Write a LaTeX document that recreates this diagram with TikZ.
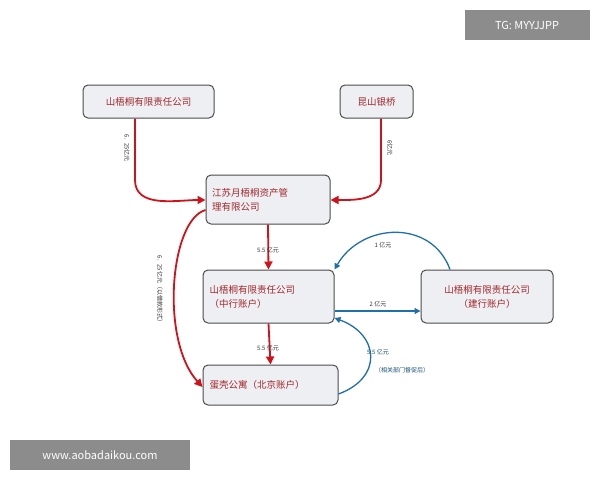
\documentclass[tikz,border=0pt]{standalone}
\usepackage{fontspec}
\setmainfont{Noto Sans CJK SC}
\usetikzlibrary{arrows.meta}
\definecolor{rd}{HTML}{D0121B}
\definecolor{bl}{HTML}{1F6FA8}
\definecolor{tx}{HTML}{A0282C}
\definecolor{bx}{HTML}{EEEFF3}
\tikzset{
 box/.style={draw=black!70,line width=1pt,fill=bx,rounded corners=5pt,text=tx,font=\fontsize{9.5}{14}\selectfont,align=left,inner sep=3pt},
 rarr/.style={draw=rd,line width=1.8pt,-{Triangle[length=8pt,width=8pt]}},
 barr/.style={draw=bl,line width=1.3pt,-{Triangle[length=6pt,width=6pt]}},
 lbl/.style={font=\fontsize{6}{7}\selectfont,text=black!80},
 wm/.style={fill=black!45,text=white,font=\fontsize{11}{13}\selectfont,inner sep=0pt}
}
\begin{document}
\begin{tikzpicture}[x=1pt,y=-1pt]
\useasboundingbox[fill=white] (0,0) rectangle (600,480);
\node[wm,minimum width=125,minimum height=30] (tg) at (527,25) {TG: MYYJJPP};
\node[wm,minimum width=180,minimum height=30] (ww) at (100,455) {www.aobadaikou.com};
\node[box,minimum width=131,minimum height=33,align=center] (A) at (148.5,101.5) {山梧桐有限责任公司};
\node[box,minimum width=73,minimum height=33,align=center] (B) at (376.5,101.5) {昆山银桥};
\node[box,minimum width=124,minimum height=49,text width=112] (C) at (268,199.5) {江苏月梧桐资产管\\理有限公司};
\node[box,minimum width=131,minimum height=53,text width=118] (D) at (268.5,296.5) {山梧桐有限责任公司\\（中行账户）};
\node[box,minimum width=132,minimum height=53,align=center] (E) at (487,296.5) {山梧桐有限责任公司\\（建行账户）};
\node[box,minimum width=135,minimum height=40,text width=122] (F) at (270.5,385) {蛋壳公寓（北京账户）};
\draw[rarr] (A.south -| 135,0) -- (135,180) to[out=-90,in=180] (C.west |- 0,200);
\node[lbl,rotate=-90] (l1) at (127,148) {6．25亿元};
\draw[rarr] (B.south -| 381,0) -- (381,180) to[out=-90,in=0] (C.east |- 0,200);
\node[lbl,rotate=-90] (l2) at (390,148) {6亿元};
\draw[rarr] (C.west |- 0,210) .. controls (170,220) and (160,340) .. (F.west |- 0,387);
\node[lbl,rotate=-90] (l3) at (160,290) {6．25亿元（以借款形式）};
\draw[rarr] (C.south) -- (D.north);
\node[lbl] (l4) at (268,250) {5.5 亿元};
\draw[rarr] (D.south) -- (F.north);
\node[lbl] (l5) at (268,348) {5.5 亿元};
\draw[barr] (E.north -| 450,0) to[out=110,in=60,looseness=1.2] (D.north east);
\node[lbl] (l6) at (383,245) {1 亿元};
\draw[barr] (D.east |- 0,311) -- (E.west |- 0,311);
\node[lbl] (l7) at (378,304) {2 亿元};
\draw[barr] (F.east |- 0,394) to[out=20,in=-20,looseness=1.6] (D.south east |- 0,318);
\node[lbl,text=bl!70!black] (l8) at (378,352) {5.5 亿元};
\node[lbl,text=bl!70!black] (l9) at (402,370) {（相关部门督促后）};
\end{tikzpicture}
\end{document}
